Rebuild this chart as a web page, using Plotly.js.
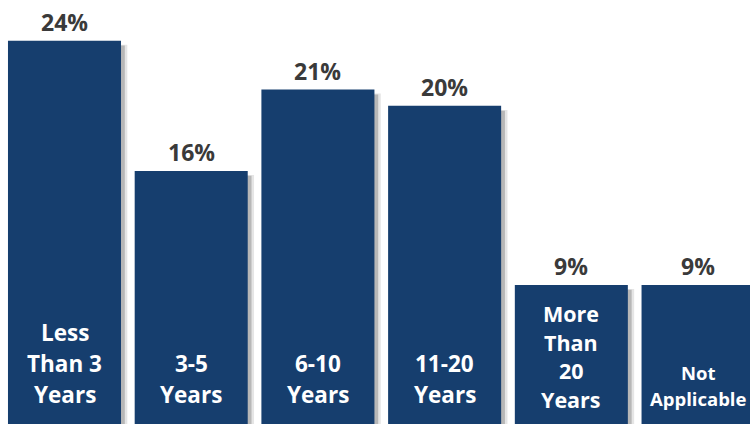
<!DOCTYPE html>
<html>
<head>
<meta charset="utf-8">
<script src="https://cdn.plot.ly/plotly-3.0.1.min.js"></script>
<style>html,body{margin:0;padding:0;background:#fff;}#chart{width:750px;height:424px;}</style>
</head>
<body>
<div id="chart"></div>
<script>
// Data
var categories = ["Less Than 3 Years", "3-5 Years", "6-10 Years", "11-20 Years", "More Than 20 Years", "Not Applicable"];
var values = [24, 16, 21, 20, 9, 9];
var valueLabels = ["24%", "16%", "21%", "20%", "9%", "9%"];
var categoryLines = [
  ["Less", "Than 3", "Years"],
  ["3-5", "Years"],
  ["6-10", "Years"],
  ["11-20", "Years"],
  ["More", "Than", "20", "Years"],
  ["Not", "Applicable"]
];

// Styling
var BAR = "#163e6e";
var W = 750, H = 424;
var barWidth = 0.892;
var fontFam = "'Open Sans', 'Noto Sans', sans-serif";

var shadow1 = {
  type: "bar", x: categories, y: values.map(function(v){return v - 0.25;}),
  width: barWidth, offset: -barWidth/2 + 0.05,
  marker: {color: "rgba(0,0,0,0.10)", line: {width: 0}},
  hoverinfo: "skip", showlegend: false
};
var shadow2 = {
  type: "bar", x: categories, y: values.map(function(v){return v - 0.3;}),
  width: barWidth, offset: -barWidth/2 + 0.03,
  marker: {color: "rgba(0,0,0,0.20)", line: {width: 0}},
  hoverinfo: "skip", showlegend: false
};
var bars = {
  type: "bar", x: categories, y: values,
  width: barWidth,
  marker: {color: BAR, line: {width: 0}},
  hoverinfo: "x+y", showlegend: false
};

var annotations = [];
// value labels above bars
values.forEach(function(v, i) {
  annotations.push({
    x: categories[i], y: v, xref: "x", yref: "y",
    text: "<b>" + valueLabels[i] + "</b>",
    showarrow: false, yanchor: "bottom", yshift: 1,
    font: {family: fontFam, size: 23, color: "#3a3a3a"}
  });
});
// category labels inside bars (line-by-line, stacked upward from the bottom)
var lineSpacing = [31, 31, 31, 31, 28.5, 26];
var lineSize = [22.5, 22.5, 22.5, 22.5, 21.5, 18.5];
var bottomCenter = [394, 394, 394, 394, 399, 398];
categoryLines.forEach(function(lines, i) {
  var n = lines.length;
  lines.forEach(function(t, j) {
    var py = bottomCenter[i] - (n - 1 - j) * lineSpacing[i];
    annotations.push({
      x: categories[i], y: 1 - py / H, xref: "x", yref: "paper",
      text: "<b>" + t + "</b>", showarrow: false,
      yanchor: "middle", xanchor: "center",
      font: {family: fontFam, size: lineSize[i], color: "#ffffff"}
    });
  });
});

var layout = {
  width: W, height: H,
  margin: {l: 0, r: 0, t: 0, b: 0},
  paper_bgcolor: "#ffffff", plot_bgcolor: "#ffffff",
  barmode: "overlay",
  xaxis: {type: "category", range: [-0.509, 5.41], showticklabels: false, showgrid: false, zeroline: false, showline: false, ticks: ""},
  yaxis: {range: [0.455, 26.5], showticklabels: false, showgrid: false, zeroline: false, showline: false, ticks: ""},
  annotations: annotations,
  showlegend: false
};

Plotly.newPlot("chart", [shadow1, shadow2, bars], layout, {displayModeBar: false, staticPlot: true});
</script>
</body>
</html>
